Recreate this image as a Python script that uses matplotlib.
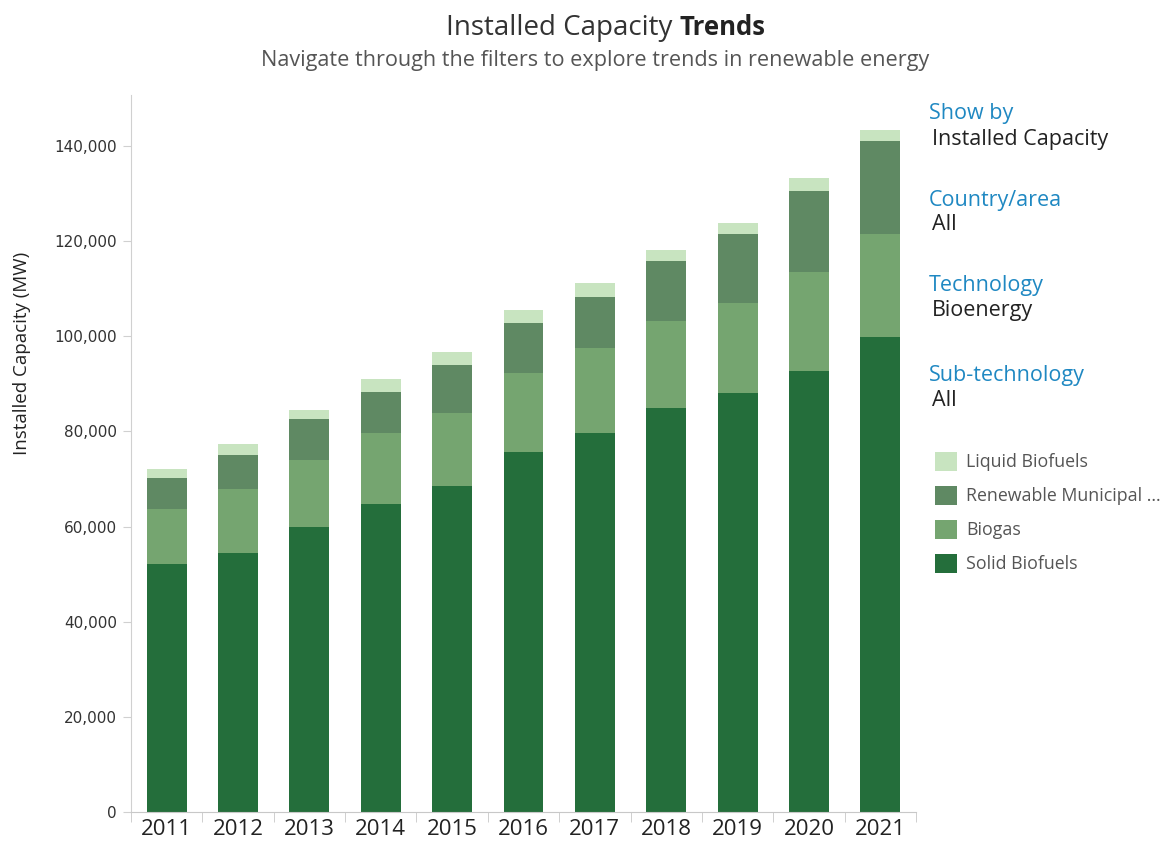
import numpy as np
import matplotlib.pyplot as plt
from matplotlib.patches import Patch
from matplotlib.ticker import FuncFormatter, FixedLocator

# Installed capacity by sub-technology (MW)
years = ['2011', '2012', '2013', '2014', '2015', '2016',
         '2017', '2018', '2019', '2020', '2021']
solid_biofuels = [52100, 54400, 60000, 64700, 68500, 75700,
                  79700, 84900, 88100, 92800, 99900]
biogas = [11600, 13500, 14000, 15000, 15400, 16600,
          17800, 18400, 18800, 20700, 21500]
renewable_municipal = [6600, 7100, 8600, 8500, 10000, 10400,
                       10800, 12600, 14600, 17000, 19700]
liquid_biofuels = [1800, 2300, 1800, 2800, 2700, 2800,
                   2800, 2200, 2300, 2700, 2300]

series_names = ['Solid Biofuels', 'Biogas', 'Renewable Municipal ...', 'Liquid Biofuels']
series_colors = ['#246e3b', '#75a570', '#5f8963', '#c8e4c0']

fig = plt.figure(figsize=(11.76, 8.47), dpi=100)
ax = fig.add_axes([0.1114, 0.0413, 0.6675, 0.8465])

x = np.arange(len(years))
bottom = np.zeros(len(years))
for vals, name, col in zip([solid_biofuels, biogas, renewable_municipal, liquid_biofuels],
                           series_names, series_colors):
    ax.bar(x, vals, width=0.56, bottom=bottom, color=col, label=name, zorder=2)
    bottom += np.array(vals)

ax.set_xlim(-0.5, len(years) - 0.5)
ax.set_ylim(0, 150700)

# axes styling
for side in ['top', 'right']:
    ax.spines[side].set_visible(False)
ax.spines['left'].set_color('#d0d0d0')
ax.spines['bottom'].set_color('#c8c8c8')

ax.yaxis.set_major_locator(FixedLocator(np.arange(0, 140001, 20000)))
ax.yaxis.set_major_formatter(FuncFormatter(lambda v, p: f'{int(v):,}'))
ax.tick_params(axis='y', length=6, color='#d0d0d0', labelsize=11,
               labelcolor='#333333', pad=4)

ax.set_xticks(x)
ax.set_xticklabels(years, fontsize=16, color='#222222', family='Open Sans')
ax.tick_params(axis='x', which='major', length=0, pad=5)
ax.set_xticks(np.arange(-0.5, len(years)), minor=True)
ax.tick_params(axis='x', which='minor', length=7, color='#c8c8c8')

fig.text(0.019, 1 - 353 / 847, 'Installed Capacity (MW)', rotation=90, ha='center', va='center',
         fontsize=13.5, color='#222222', family='Open Sans')

# title with a bold second word
fig.text(672 / 1176, 0.967, 'Installed Capacity', ha='right', va='center',
         fontsize=20, color='#333333', family='Open Sans')
fig.text(680 / 1176, 0.967, 'Trends', ha='left', va='center',
         fontsize=18.5, color='#222222', family='Open Sans', fontweight='bold')
fig.text(595 / 1176, 0.929, 'Navigate through the filters to explore trends in renewable energy',
         ha='center', va='center', fontsize=15.6, color='#555555', family='Open Sans')

# filter panel on the right
filters = [('Show by', 'Installed Capacity', 114),
           ('Country/area', 'All', 200),
           ('Technology', 'Bioenergy', 285),
           ('Sub-technology', 'All', 375)]
for head, val, ypx in filters:
    fig.text(929 / 1176, 1 - ypx / 847, head, ha='left', va='center',
             fontsize=15.5, color='#1f88c2', family='Open Sans')
    fig.text(932 / 1176, 1 - (ypx + 25) / 847, val, ha='left', va='center',
             fontsize=15.5, color='#222222', family='Open Sans')

handles = [Patch(facecolor=c, edgecolor='none') for c in series_colors][::-1]
leg = fig.legend(handles, series_names[::-1], loc='upper left',
                 bbox_to_anchor=(935 / 1176, 1 - 452 / 847), frameon=False,
                 borderpad=0, borderaxespad=0,
                 handlelength=1.25, handleheight=1.25, handletextpad=0.5,
                 labelspacing=0.82, prop={'family': 'Open Sans', 'size': 12.8})
for t in leg.get_texts():
    t.set_color('#555555')

fig.savefig('out.png', dpi=100)
